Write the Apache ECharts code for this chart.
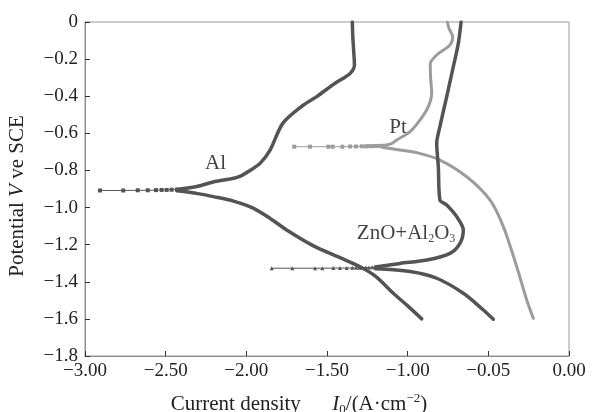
<!DOCTYPE html>
<html>
<head>
<meta charset="utf-8">
<script src="https://cdn.jsdelivr.net/npm/echarts@6/dist/echarts.min.js"></script>
<style>
  html, body { margin: 0; padding: 0; background: #fff; }
  #main { width: 605px; height: 412px; }
</style>
</head>
<body>
<div id="main"></div>
<script>
// tick labels (the original prints -0.05 where -0.50 belongs)
const xTickLabels = ['\u22123.00', '\u22122.50', '\u22122.00', '\u22121.50', '\u22121.00', '\u22120.05', '0.00']
const yTickLabels = ['0', '\u22120.2', '\u22120.4', '\u22120.6', '\u22120.8', '\u22121.0', '\u22121.2', '\u22121.4', '\u22121.6', '\u22121.8']

// Al: thin part with markers, anodic (upper) and cathodic (lower) branches
const alThin = [[-2.907, -0.908], [-2.763, -0.908], [-2.673, -0.907], [-2.611, -0.907], [-2.56, -0.906], [-2.525, -0.905], [-2.494, -0.905], [-2.463, -0.904], [-2.43, -0.903]]
const alUpper = [[-2.43, -0.903], [-2.30, -0.885], [-2.205, -0.862], [-2.10, -0.846], [-2.04, -0.832], [-1.977, -0.80], [-1.915, -0.762], [-1.853, -0.69], [-1.773, -0.545], [-1.65, -0.45], [-1.564, -0.402], [-1.45, -0.33], [-1.357, -0.277], [-1.33, -0.23], [-1.335, -0.15], [-1.34, -0.08], [-1.343, 0]]
const alLower = [[-2.43, -0.91], [-2.30, -0.925], [-2.205, -0.941], [-2.08, -0.965], [-1.958, -1.003], [-1.85, -1.06], [-1.75, -1.121], [-1.587, -1.205], [-1.42, -1.27], [-1.295, -1.319], [-1.20, -1.37], [-1.089, -1.462], [-1.00, -1.53], [-0.913, -1.60]]

// Pt
const ptThin = [[-1.703, -0.672], [-1.605, -0.672], [-1.492, -0.672], [-1.465, -0.672], [-1.405, -0.672], [-1.357, -0.671], [-1.32, -0.671], [-1.285, -0.670], [-1.26, -0.670], [-1.24, -0.669], [-1.22, -0.669], [-1.20, -0.668], [-1.18, -0.668], [-1.16, -0.667]]
const ptUpper = [[-1.16, -0.667], [-1.10, -0.655], [-1.068, -0.636], [-0.985, -0.591], [-0.923, -0.528], [-0.872, -0.456], [-0.851, -0.384], [-0.858, -0.30], [-0.86, -0.225], [-0.82, -0.178], [-0.738, -0.124], [-0.721, -0.079], [-0.744, -0.034], [-0.754, 0]]
const ptLower = [[-1.16, -0.675], [-1.05, -0.69], [-0.944, -0.704], [-0.8, -0.744], [-0.634, -0.834], [-0.49, -0.959], [-0.407, -1.103], [-0.324, -1.319], [-0.262, -1.498], [-0.221, -1.597]]

// ZnO+Al2O3
const znThin = [[-1.843, -1.327], [-1.715, -1.327], [-1.574, -1.327], [-1.529, -1.327], [-1.461, -1.326], [-1.42, -1.326], [-1.378, -1.326], [-1.343, -1.325], [-1.32, -1.325], [-1.30, -1.324], [-1.28, -1.324], [-1.26, -1.323], [-1.24, -1.323], [-1.22, -1.322], [-1.20, -1.322]]
const znUpper = [[-1.20, -1.32], [-1.047, -1.301], [-0.882, -1.283], [-0.738, -1.247], [-0.676, -1.193], [-0.655, -1.121], [-0.696, -1.049], [-0.758, -0.986], [-0.80, -0.959], [-0.81, -0.78], [-0.82, -0.654], [-0.80, -0.564], [-0.758, -0.402], [-0.717, -0.241], [-0.686, -0.115], [-0.669, 0]]
const znLower = [[-1.20, -1.33], [-0.985, -1.345], [-0.82, -1.381], [-0.655, -1.462], [-0.531, -1.552], [-0.469, -1.602]]

// curve names and where they sit (data coords)
const curveNames = ['Al', 'Pt', 'ZnO+Al{sub|2}O{sub|3}']
const curveNamePos = [[-2.191, -0.763], [-1.06, -0.569], [-1.01, -1.14]]

const serif = '"Liberation Serif", "Times New Roman", serif'
const dark = '#545454'
const light = '#9c9c9c'

const thin = (data, color, symbol) => ({
  type: 'line', data, smooth: false, showSymbol: true,
  symbol, symbolSize: 4,
  lineStyle: { width: 1, color },
  itemStyle: { color },
  silent: true
})
const thick = (data, color, width) => ({
  type: 'line', data, smooth: 0.3, showSymbol: false,
  lineStyle: { width, color, cap: 'round', join: 'round' },
  silent: true
})

const labelRich = {
  sub: { fontSize: 12, fontFamily: serif, color: '#111', verticalAlign: 'bottom', lineHeight: 10 }
}

const chart = echarts.init(document.getElementById('main'))
chart.setOption({
  animation: false,
  grid: {
    left: 85, right: 36, top: 22, bottom: 56, containLabel: false, outerBoundsMode: 'none',
    show: true, borderColor: '#999', borderWidth: 1
  },
  xAxis: {
    type: 'value', min: -3, max: 0, interval: 0.5,
    axisLine: { onZero: false, lineStyle: { color: '#8a8a8a' } },
    axisTick: { inside: true, length: 5, lineStyle: { color: '#333' } },
    splitLine: { show: false },
    axisLabel: {
      margin: 6, color: '#222', fontFamily: serif, fontSize: 19,
      formatter: v => xTickLabels[Math.round((v + 3) / 0.5)]
    },
    name: 'Current density      {i|I}{sub|0}/(A\u00B7cm{sup|\u22122})',
    nameLocation: 'middle', nameGap: 36,
    nameTextStyle: {
      color: '#222', fontFamily: serif, fontSize: 21, lineHeight: 24, padding: [0, 56, 0, 0],
      rich: {
        i: { fontStyle: 'italic', fontFamily: serif, fontSize: 21, lineHeight: 24, color: '#222' },
        sub: { fontSize: 13, fontFamily: serif, color: '#222', verticalAlign: 'bottom', lineHeight: 12 },
        sup: { fontSize: 13, fontFamily: serif, color: '#222', verticalAlign: 'top', lineHeight: 12 }
      }
    }
  },
  yAxis: {
    type: 'value', min: -1.8, max: 0, interval: 0.2,
    axisLine: { onZero: false, lineStyle: { color: '#8a8a8a' } },
    axisTick: { inside: true, length: 5, lineStyle: { color: '#333' } },
    splitLine: { show: false },
    axisLabel: {
      margin: 7, color: '#222', fontFamily: serif, fontSize: 19,
      formatter: v => yTickLabels[Math.round(-v / 0.2)]
    },
    name: 'Potential {i|V} ve SCE',
    nameLocation: 'middle', nameGap: 57,
    nameTextStyle: {
      color: '#222', fontFamily: serif, fontSize: 21, padding: [0, 14, 0, 0],
      rich: { i: { fontStyle: 'italic', fontFamily: serif, fontSize: 21, color: '#222' } }
    }
  },
  series: [
    thin(alThin, dark, 'rect'),
    thick(alUpper, dark, 3.5),
    thick(alLower, dark, 3.5),
    thin(ptThin, light, 'rect'),
    thick(ptUpper, light, 3),
    thick(ptLower, light, 3),
    thin(znThin, dark, 'triangle'),
    thick(znUpper, dark, 3.5),
    thick(znLower, dark, 3.5),
    {
      type: 'scatter', silent: true, symbolSize: 0,
      data: curveNamePos.map((p, i) => ({ value: p, name: curveNames[i] })),
      label: {
        show: true, position: 'inside', formatter: p => p.name,
        color: '#111', fontFamily: serif, fontSize: 21, lineHeight: 22, rich: labelRich
      }
    }
  ]
})
</script>
</body>
</html>
